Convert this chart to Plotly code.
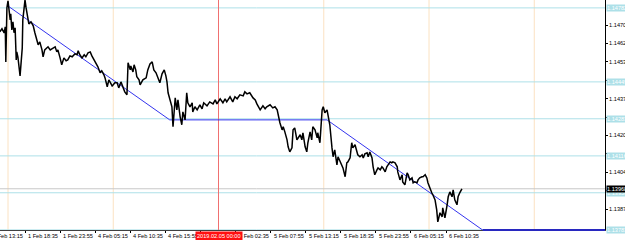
import plotly.graph_objects as go
from datetime import datetime, timedelta

# ---------------- data ----------------
# trading minutes after 2019-02-01 13:15 (weekend removed), sampled closes
bar_minutes = [
    90, 110, 130, 140, 145, 155, 165, 175, 185, 190, 200, 210, 220, 230, 240, 245, 255, 275, 285, 295,
    300, 310, 320, 330, 340, 345, 355, 375, 395, 410, 430, 440, 455, 475, 485, 500, 530, 550, 565, 595,
    610, 620, 640, 655, 675, 695, 710, 730, 750, 775, 795, 805, 820, 840, 860, 875, 895, 915, 930, 940,
    960, 975, 985, 1005, 1020, 1040, 1050, 1070, 1085, 1095, 1115, 1125, 1140, 1160, 1175, 1195, 1215, 1230, 1250,
    1260, 1280, 1285, 1305, 1315, 1330, 1340, 1360, 1370, 1395, 1425, 1440, 1460, 1480, 1495, 1515, 1535, 1550,
    1570, 1590, 1605, 1615, 1625,
    1640, 1660, 1670, 1690, 1705, 1715, 1735, 1750, 1760, 1780, 1795, 1805, 1825, 1845, 1850, 1870, 1890, 1915,
    1935, 1950, 1980, 2005, 2035, 2055, 2070, 2100, 2125, 2145, 2160, 2190, 2215, 2235, 2255, 2280, 2310, 2325,
    2345, 2370, 2400, 2420, 2435, 2465, 2490, 2510, 2525, 2555, 2580, 2600, 2620, 2625, 2645,
    2665, 2675, 2690, 2710, 2720, 2735, 2755, 2765, 2780, 2800, 2830, 2845, 2855, 2875, 2890, 2900, 2920, 2935,
    2945, 2965, 2985, 2990, 3010, 3030, 3040, 3055, 3075, 3085, 3100,
    3120, 3130, 3145, 3165, 3175, 3195, 3220, 3240, 3255, 3265, 3285, 3300, 3310, 3330, 3350, 3355, 3375, 3395,
    3405, 3420, 3440, 3450, 3465, 3485, 3495, 3510, 3530, 3540, 3560, 3575, 3585, 3605, 3620, 3630, 3650, 3665,
    3675, 3695, 3715, 3720, 3740, 3760, 3765, 3785, 3805, 3815, 3830, 3850, 3860, 3875, 3895, 3905, 3920, 3940,
    3950, 3970, 3985, 3995, 4015, 4030, 4040, 4060, 4075, 4085, 4105, 4125, 4130, 4150, 4170, 4180, 4195, 4215,
    4225, 4240, 4260, 4270, 4285, 4305,
]
close_prices = [
    1.14674, 1.14688, 1.14670, 1.14697, 1.14539, 1.14782, 1.14814, 1.14773, 1.14728, 1.14755,
    1.14683, 1.14719, 1.14670, 1.14692, 1.14548, 1.14584, 1.14562, 1.14476, 1.14548, 1.14602,
    1.14728, 1.14796, 1.14818, 1.14782, 1.14755, 1.14737, 1.14710, 1.14719, 1.14701, 1.14670,
    1.14638, 1.14616, 1.14629, 1.14593, 1.14562, 1.14593, 1.14607, 1.14593, 1.14598, 1.14607,
    1.14584, 1.14593, 1.14557, 1.14526, 1.14557, 1.14544, 1.14548, 1.14566, 1.14562, 1.14575,
    1.14571, 1.14589, 1.14571, 1.14557, 1.14571, 1.14562, 1.14580, 1.14584, 1.14566, 1.14557,
    1.14539, 1.14526, 1.14517, 1.14490, 1.14499, 1.14481, 1.14467, 1.14427, 1.14458, 1.14449,
    1.14431, 1.14436, 1.14445, 1.14445, 1.14422, 1.14449, 1.14422, 1.14404, 1.14391,
    1.14535, 1.14503, 1.14521, 1.14494, 1.14526, 1.14503, 1.14472, 1.14458, 1.14436, 1.14458,
    1.14467, 1.14503, 1.14530, 1.14539, 1.14503, 1.14490, 1.14467, 1.14445, 1.14485, 1.14503,
    1.14476, 1.14449, 1.14400,
    1.14377, 1.14337, 1.14247, 1.14377, 1.14323, 1.14368, 1.14292, 1.14256, 1.14314, 1.14278,
    1.14400, 1.14355, 1.14337, 1.14355, 1.14314, 1.14337, 1.14323, 1.14346, 1.14328, 1.14355,
    1.14341, 1.14359, 1.14350, 1.14368, 1.14350, 1.14373, 1.14355, 1.14373, 1.14359, 1.14382,
    1.14359, 1.14382, 1.14373, 1.14391, 1.14386, 1.14404, 1.14395, 1.14400, 1.14377, 1.14368,
    1.14350, 1.14323, 1.14341, 1.14328, 1.14337, 1.14346, 1.14332, 1.14337, 1.14323, 1.14310,
    1.14265,
    1.14233, 1.14247, 1.14224, 1.14188, 1.14157, 1.14134, 1.14152, 1.14233, 1.14242, 1.14188,
    1.14211, 1.14188, 1.14220, 1.14157, 1.14134, 1.14175, 1.14224, 1.14188, 1.14247, 1.14233,
    1.14197, 1.14220, 1.14175, 1.14323, 1.14337, 1.14310, 1.14323, 1.14292, 1.14256,
    1.14152, 1.14112, 1.14143, 1.14076, 1.14112, 1.14089, 1.14062, 1.14022, 1.14085, 1.14089,
    1.14107, 1.14175, 1.14152, 1.14166, 1.14134, 1.14121, 1.14112, 1.14121, 1.14107, 1.14125,
    1.14130, 1.14112, 1.14134, 1.14107, 1.14067, 1.14031, 1.14053, 1.14062, 1.14053, 1.14067,
    1.14062, 1.14044, 1.14067, 1.14076, 1.14089, 1.14085, 1.14089, 1.14085, 1.14067, 1.14044,
    1.14008, 1.14031, 1.13999, 1.13986, 1.14040, 1.14031, 1.14008, 1.14017, 1.13995, 1.13999,
    1.13995, 1.14008, 1.14017, 1.14022, 1.14022, 1.14031, 1.14017, 1.13995, 1.13963, 1.13950,
    1.13941, 1.13918, 1.13873, 1.13819, 1.13860, 1.13842, 1.13882, 1.13837, 1.13896, 1.13932,
    1.13954, 1.13932, 1.13963, 1.13918, 1.13896, 1.13932, 1.13950, 1.13968,
]

# drawn objects
trend_a_minutes = [175, 1640]
trend_a_prices = [1.14787, 1.14278]
flat_minutes = [1640, 3075]
flat_prices = [1.14278, 1.14278]
trend_b_minutes = [3075, 4014]
trend_b_prices = [1.14278, 1.13950]

level_prices = [1.14782, 1.14449, 1.14283, 1.14116, 1.13950, 1.13783]
separator_times = ["2019-02-01 16:00", "2019-02-04 08:00", "2019-02-05 16:00",
                   "2019-02-06 08:00", "2019-02-07 00:00"]
cursor_time = "2019-02-05 00:00"
cursor_label = "2019.02.05 00:00"

price_ticks = [1.14705, 1.14622, 1.14539, 1.14457, 1.14374, 1.14291,
               1.14208, 1.14125, 1.14043, 1.13960, 1.13877]
time_tick_step = 320
time_tick_count = 14

x_range = [92, 5610]
y_range = [1.137825, 1.148175]

# ---------------- helpers ----------------
BASE = datetime(2019, 2, 1, 13, 15)
WK_START = datetime(2019, 2, 2)
WK_END = datetime(2019, 2, 4)


def to_trading_minutes(ts):
    dt = datetime.strptime(ts, "%Y-%m-%d %H:%M")
    if dt >= WK_END:
        dt -= (WK_END - WK_START)
    return (dt - BASE).total_seconds() / 60.0


def from_trading_minutes(m):
    dt = BASE + timedelta(minutes=m)
    if dt >= WK_START:
        dt += (WK_END - WK_START)
    return dt


def xpaper(m):
    return (m - x_range[0]) / (x_range[1] - x_range[0])


FONT = "Liberation Sans"
FS = 5.6
CYAN = "#ade0e8"
PEACH = "#fbe2c2"
BLUE = "#3434ee"

fig = go.Figure()

# vertical separators
for t in separator_times:
    m = to_trading_minutes(t)
    fig.add_trace(go.Scatter(x=[m, m], y=y_range, mode="lines",
                             line=dict(color=PEACH, width=1), hoverinfo="skip", showlegend=False))

# horizontal levels
for lv in level_prices:
    fig.add_trace(go.Scatter(x=x_range, y=[lv, lv], mode="lines",
                             line=dict(color=CYAN, width=1), hoverinfo="skip", showlegend=False))

# current price line
cur = close_prices[-1]
fig.add_trace(go.Scatter(x=x_range, y=[cur, cur], mode="lines",
                         line=dict(color="#c8c8c8", width=1), hoverinfo="skip", showlegend=False))

# cursor line
cm = to_trading_minutes(cursor_time)
fig.add_trace(go.Scatter(x=[cm, cm], y=y_range, mode="lines",
                         line=dict(color="#f07070", width=1), hoverinfo="skip", showlegend=False))

# trend lines
fig.add_trace(go.Scatter(x=trend_a_minutes, y=trend_a_prices, mode="lines",
                         line=dict(color=BLUE, width=1), hoverinfo="skip", showlegend=False))
fig.add_trace(go.Scatter(x=flat_minutes, y=flat_prices, mode="lines",
                         line=dict(color=BLUE, width=1), hoverinfo="skip", showlegend=False))
slope = (trend_b_prices[1] - trend_b_prices[0]) / (trend_b_minutes[1] - trend_b_minutes[0])
hit_m = trend_b_minutes[0] + (y_range[0] - trend_b_prices[0]) / slope
fig.add_trace(go.Scatter(x=[trend_b_minutes[0], hit_m], y=[trend_b_prices[0], y_range[0]], mode="lines",
                         line=dict(color=BLUE, width=1), hoverinfo="skip", showlegend=False))

# price
fig.add_trace(go.Scatter(x=bar_minutes, y=close_prices, mode="lines",
                         line=dict(color="black", width=1.5), hoverinfo="skip", showlegend=False))

shapes = [dict(type="line", xref="paper", yref="paper", x0=xpaper(hit_m), x1=1, y0=0, y1=0,
               line=dict(color="#2828c0", width=2), layer="above")]

annotations = []
# time labels (the one that starts under the cursor box is hidden in the chart)
cursor_box_half = 21.0 / 605.0
for k in range(time_tick_count):
    m = k * time_tick_step
    gap = xpaper(cm) - xpaper(m)
    if 0 <= gap < cursor_box_half:
        continue
    d = from_trading_minutes(m)
    annotations.append(dict(xref="paper", yref="paper", x=xpaper(m), y=0, xanchor="left", yanchor="top",
                            xshift=1, yshift=-1, showarrow=False,
                            text=f"{d.day} {d:%b} {d:%H:%M}",
                            font=dict(family=FONT, size=FS, color="black")))
# level boxes
for lv in level_prices:
    annotations.append(dict(xref="paper", yref="y", x=1, y=lv, xanchor="left", yanchor="middle",
                            xshift=1, showarrow=False, text=f"{lv:.5f}", bgcolor=CYAN, borderpad=0,
                            font=dict(family=FONT, size=FS, color="white")))
# current price box
annotations.append(dict(xref="paper", yref="y", x=1, y=cur, xanchor="left", yanchor="middle",
                        xshift=1, showarrow=False, text=f"{cur:.5f}", bgcolor="black", borderpad=0,
                        font=dict(family=FONT, size=FS, color="white")))
# cursor box
annotations.append(dict(xref="paper", yref="paper", x=xpaper(cm), y=0, xanchor="center", yanchor="top",
                        yshift=-1, showarrow=False, text=cursor_label, bgcolor="#ff1010", borderpad=1,
                        font=dict(family=FONT, size=FS, color="white")))

# axis labels hidden under the level / price boxes are left blank
box_prices = level_prices + [cur]
px_per_price = 230.0 / (y_range[1] - y_range[0])
tick_text = []
for v in price_ticks:
    covered = any(abs(v - b) * px_per_price < 6 for b in box_prices)
    tick_text.append("" if covered else f"{v:.5f}")

fig.update_layout(
    width=625, height=240,
    margin=dict(l=0, r=20, t=0, b=10),
    paper_bgcolor="white", plot_bgcolor="white",
    showlegend=False,
    shapes=shapes, annotations=annotations,
    xaxis=dict(range=x_range, showgrid=False, zeroline=False, showline=True, linecolor="#404040",
               linewidth=1, ticks="outside", ticklen=2, tickcolor="black",
               tickvals=[k * time_tick_step for k in range(time_tick_count)],
               showticklabels=False, automargin=False, fixedrange=True),
    yaxis=dict(range=y_range, side="right", showgrid=False, zeroline=False, showline=True,
               linecolor="black", linewidth=1, ticks="outside", ticklen=2, tickcolor="black",
               tickvals=price_ticks, ticktext=tick_text,
               tickfont=dict(family=FONT, size=FS, color="black"), automargin=False, fixedrange=True),
)

fig.write_html("out.html")
